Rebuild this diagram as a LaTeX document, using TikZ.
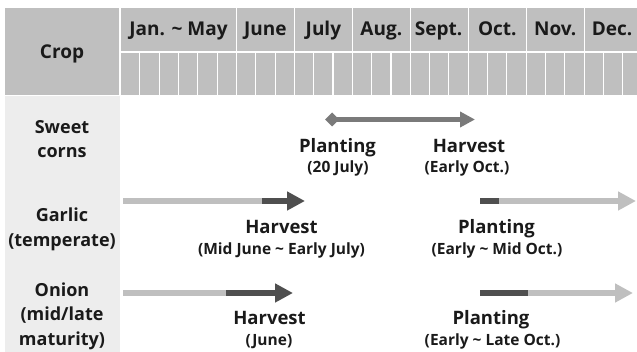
\documentclass[tikz,border=0pt]{standalone}
\usepackage{fontspec}
\setmainfont{Open Sans}
\usetikzlibrary{arrows.meta}
\definecolor{hdrgray}{HTML}{BFBFBF}
\definecolor{colgray}{HTML}{EDEDED}
\definecolor{lightbar}{HTML}{BFBFBF}
\definecolor{darkbar}{HTML}{4F4F4F}
\definecolor{midbar}{HTML}{7A7A7A}
\definecolor{txt}{HTML}{1A1A1A}
\tikzset{
  hdr/.style={font=\bfseries\fontsize{19}{19}\selectfont, text=txt, inner sep=0pt, anchor=base},
  rowlbl/.style={font=\bfseries\fontsize{18}{18}\selectfont, text=txt, inner sep=0pt, anchor=base},
  lbl/.style={font=\bfseries\fontsize{18.5}{18.5}\selectfont, text=txt, inner sep=0pt, anchor=base},
  sub/.style={font=\bfseries\fontsize{15.5}{15.5}\selectfont, text=txt, inner sep=0pt, anchor=base},
  gridline/.style={draw=white, line width=1.1pt},
  lightseg/.style={draw=lightbar, line width=6pt},
  darkseg/.style={draw=darkbar, line width=6pt},
  headtip/.style={-{Triangle[length=18pt,width=18pt]}},
}
\begin{document}
\begin{tikzpicture}[x=1pt,y=-1pt]
\useasboundingbox (0,0) rectangle (637,352);
% header background
\fill[hdrgray] (5,8) rectangle (637,95);
\fill[colgray] (5,96) rectangle (120,352);
\draw[gridline] (120,8) -- (120,95);
\draw[gridline] (120,52) -- (637,52);
\foreach \k in {1,...,26}{
  \pgfmathsetmacro{\xx}{120.5+19.32*\k}
  \pgfmathtruncatemacro{\mm}{mod(\k,3)==0 && \k>=6 ? 1 : 0}
  \ifnum\mm=1
    \draw[gridline] (\xx,8) -- (\xx,95);
  \else
    \draw[gridline] (\xx,52) -- (\xx,95);
  \fi
}
% header labels
\node[hdr] (crop) at (62,58.5) {Crop};
\node[hdr] (mjan) at (178.5,36) {Jan. \textasciitilde{} May};
\node[hdr] (mjun) at (265.4,36) {June};
\node[hdr] (mjul) at (323.4,36) {July};
\node[hdr] (maug) at (381.3,36) {Aug.};
\node[hdr] (msep) at (438.5,36) {Sept.};
\node[hdr] (moct) at (497.3,36) {Oct.};
\node[hdr] (mnov) at (555.2,36) {Nov.};
\node[hdr] (mdec) at (612,36) {Dec.};
% row labels
\node[rowlbl] (sc1) at (62,134) {Sweet};
\node[rowlbl] (sc2) at (62,158) {corns};
\node[rowlbl] (ga1) at (62,222) {Garlic};
\node[rowlbl] (ga2) at (62,247) {(temperate)};
\node[rowlbl] (on1) at (62,297) {Onion};
\node[rowlbl] (on2) at (62,321) {(mid/late};
\node[rowlbl] (on3) at (62,345) {maturity)};
% sweet corn arrow
\coordinate (scA) at (325,119.5);
\coordinate (scB) at (475,119.5);
\draw[draw=midbar, line width=5pt, {Diamond[length=14pt,width=14pt]}-{Triangle[length=15pt,width=15pt]}] (scA) -- (scB);
\node[lbl] (scP) at (337.5,153) {Planting};
\node[sub] (scPd) at (338,172.5) {(20 July)};
\node[lbl] (scH) at (469,153) {Harvest};
\node[sub] (scHd) at (467,172.5) {(Early Oct.)};
% garlic arrows
\coordinate (gh1) at (123,201);
\coordinate (gh2) at (262,201);
\coordinate (gh3) at (305,201);
\draw[lightseg] (gh1) -- (gh2);
\draw[darkseg, headtip] (gh2) -- (gh3);
\coordinate (gp1) at (480,201);
\coordinate (gp2) at (499,201);
\coordinate (gp3) at (636,201);
\draw[darkseg] (gp1) -- (gp2);
\draw[lightseg, headtip] (gp2) -- (gp3);
\node[lbl] (gaH) at (281.5,234) {Harvest};
\node[sub] (gaHd) at (281.5,254.5) {(Mid June \textasciitilde{} Early July)};
\node[lbl] (gaP) at (496.5,234) {Planting};
\node[sub] (gaPd) at (497,254.5) {(Early \textasciitilde{} Mid Oct.)};
% onion arrows
\coordinate (oh1) at (123,293);
\coordinate (oh2) at (226,293);
\coordinate (oh3) at (293,293);
\draw[lightseg] (oh1) -- (oh2);
\draw[darkseg, headtip] (oh2) -- (oh3);
\coordinate (op1) at (480,293);
\coordinate (op2) at (528,293);
\coordinate (op3) at (633,293);
\draw[darkseg] (op1) -- (op2);
\draw[lightseg, headtip] (op2) -- (op3);
\node[lbl] (onH) at (269.5,325) {Harvest};
\node[sub] (onHd) at (269,345.5) {(June)};
\node[lbl] (onP) at (491,325) {Planting};
\node[sub] (onPd) at (492.5,345.5) {(Early \textasciitilde{} Late Oct.)};
\end{tikzpicture}
\end{document}
